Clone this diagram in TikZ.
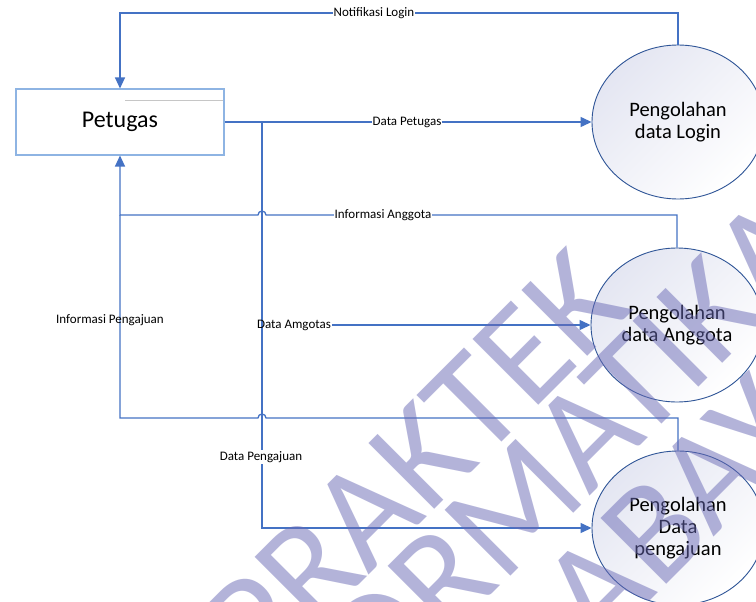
\documentclass[tikz,border=0pt]{standalone}
\usepackage{fontspec}
\setmainfont{Carlito}
\usetikzlibrary{arrows.meta,shapes.geometric}
\definecolor{flow}{HTML}{4472C4}
\definecolor{boxline}{HTML}{8EB4E3}
\definecolor{procline}{HTML}{2F5597}
\definecolor{procfill}{HTML}{E4E6F2}
\definecolor{wmark}{RGB}{105,105,181}
\begin{document}
\begin{tikzpicture}[x=1pt,y=-1pt,
  entity/.style={draw=boxline,line width=1.1pt,minimum width=208pt,minimum height=66pt,
    inner sep=0pt,font=\fontsize{24}{28}\selectfont},
  process/.style={ellipse,draw=procline,line width=0.9pt,minimum width=172pt,
    minimum height=154pt,inner sep=0pt,align=center,
    font=\fontsize{20.5}{22}\selectfont,top color=procfill,bottom color=white,shading angle=45},
  flowline/.style={draw=flow,line width=1.3pt},
  arr/.style={-{Triangle[length=11pt,width=10pt]}},
  flowlabel/.style={font=\fontsize{13}{15}\selectfont,inner sep=1pt,fill=white},
  barelabel/.style={font=\fontsize{13}{15}\selectfont,inner sep=1pt},
  wmtext/.style={font=\fontsize{145}{145}\selectfont,text=wmark,opacity=0.5,
    rotate=45,anchor=base west,inner sep=0pt}
]
\useasboundingbox (0,0) rectangle (756,602);
\clip (0,0) rectangle (756,602);
\fill[white] (0,0) rectangle (756,602);

% external entity and processes
\node[entity] (pet) at (120,122) {Petugas};
\draw[gray!45,line width=0.8pt] (125,100) -- (223,100);
\node[process] (login) at (678,122) {Pengolahan\\data Login};
\node[process] (anggota) at (677,325) {Pengolahan\\data Anggota};
\node[process] (ajuan) at (678,528) {Pengolahan\\Data\\pengajuan};

% routing points
\coordinate (topL) at (120,13);
\coordinate (split) at (262,122);
\coordinate (hopA) at (266,215);
\coordinate (joinA) at (120,215);
\coordinate (hopB) at (266,418);
\coordinate (joinB) at (120,418);

% flows
\draw[flowline,arr] (login.north) |- (topL) -- (pet.north);
\draw[flowline,arr] (pet.east) -- (login.west);
\draw[flowline,arr] (split) |- (ajuan.west);
\draw[flowline,arr] (anggota.north) |- (hopA)
  arc[start angle=0,end angle=-180,radius=4] -- (joinA) -- (pet.south);
\draw[flowline] (ajuan.north) |- (hopB)
  arc[start angle=0,end angle=-180,radius=4] -- (joinB) -- (joinA);

% flow labels
\node[flowlabel] (lNotif) at (374,13) {Notifikasi Login};
\node[flowlabel] (lPet) at (407,122) {Data Petugas};
\node[flowlabel] (lInfA) at (383,215) {Informasi Anggota};
\node[barelabel] (lInfP) at (110,320) {Informasi Pengajuan};
\node[barelabel] (lAmg) at (294,325) {Data Amgotas};
\draw[flowline,arr] (lAmg.east) -- (anggota.west);
\node[flowlabel] (lAju) at (261,457) {Data Pengajuan};

% diagonal watermark
\node[wmtext] at (260,684) {PRAKTEK};
\node[wmtext] at (240,846) {INFORMATIKA};
\node[wmtext] at (431,820) {SURABAYA};
\end{tikzpicture}
\end{document}
